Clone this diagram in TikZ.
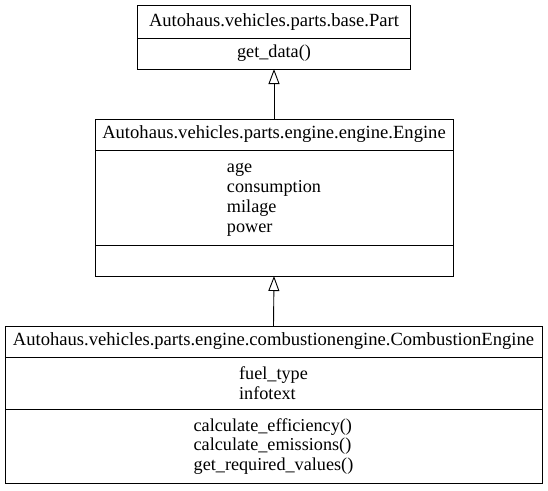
\documentclass[tikz,border=0pt]{standalone}
\usepackage{fontspec}
\setmainfont{Liberation Serif}
\usepackage{tikz}
\usetikzlibrary{positioning}
\usetikzlibrary{arrows.meta}

\begin{document}
\begin{tikzpicture}[x=1pt, y=-1pt, line width=0.9pt,
    section/.style={draw, rectangle, inner sep=0pt, outer sep=0pt, align=left, font=\fontsize{18.2}{19.8}\selectfont},
    classname/.style={section, font=\fontsize{18.6}{19.8}\selectfont},
    inherit/.style={-{Triangle[open, length=15pt, width=11pt]}}]
        \useasboundingbox (0,0) rectangle (548,490);

        \node [classname, minimum width=273pt, minimum height=32.5pt] (part) at (274,21.75) {Autohaus.vehicles.parts.base.Part};
        \node [section, minimum width=273pt, minimum height=31pt, below=0pt of part] (partops) {get\_data()};

        \node [classname, minimum width=358pt, minimum height=31pt] (engine) at (274,134.5) {Autohaus.vehicles.parts.engine.engine.Engine};
        \node [section, minimum width=358pt, minimum height=95pt, below=0pt of engine] (engineattrs) {\strut age\\consumption\\milage\\power};
        \node [section, minimum width=358pt, minimum height=31pt, below=0pt of engineattrs] (engineops) {};

        \node [classname, minimum width=537pt, minimum height=31pt] (combustion) at (273.5,341.5) {Autohaus.vehicles.parts.engine.combustionengine.CombustionEngine};
        \node [section, minimum width=537pt, minimum height=52pt, below=0pt of combustion] (combustionattrs) {\strut fuel\_type\\infotext};
        \node [section, minimum width=537pt, minimum height=74pt, below=0pt of combustionattrs] (combustionops) {\strut calculate\_efficiency()\\calculate\_emissions()\\get\_required\_values()};

        \draw [inherit] (engine.north) -- (partops.south);
        \draw [inherit] (combustion.north) -- (engineops.south);
      \end{tikzpicture}
\end{document}
